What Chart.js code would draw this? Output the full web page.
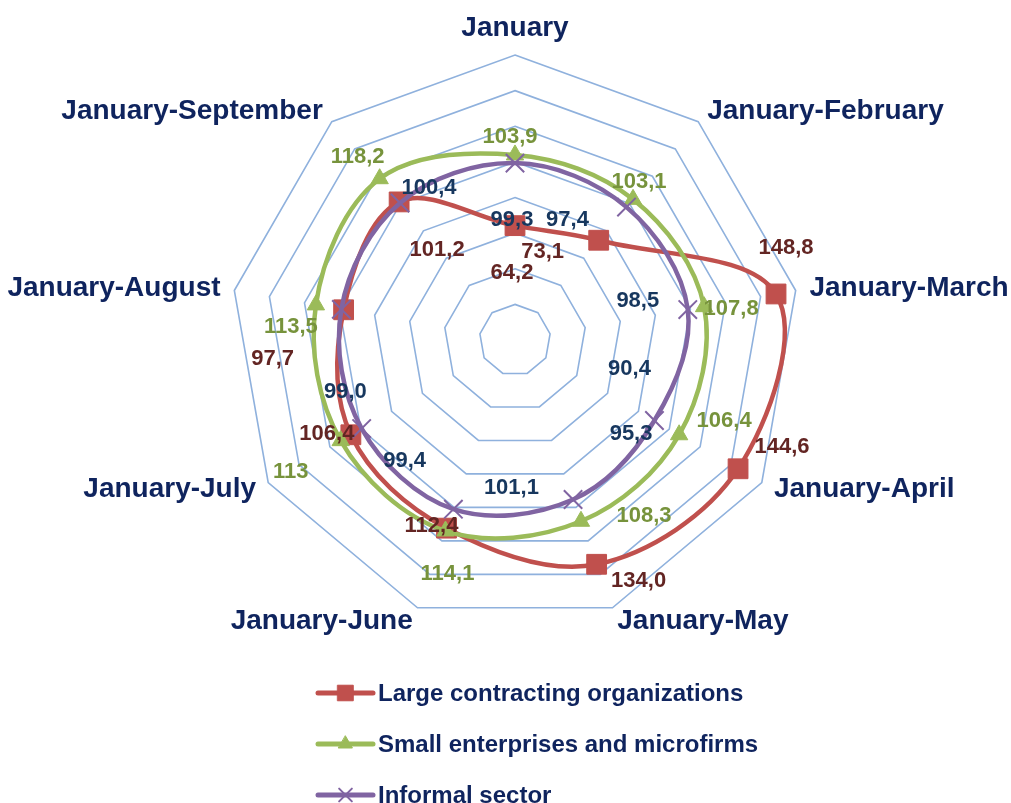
<!DOCTYPE html>
<html>
<head>
<meta charset="utf-8">
<script src="https://cdn.jsdelivr.net/npm/chart.js@4.4.1/dist/chart.umd.min.js"></script>
<style>
  html, body { margin:0; padding:0; background:#fff; }
  #wrap { width:1011px; height:803px; position:relative; }
</style>
</head>
<body>
<div id="wrap"><canvas id="chartRadar"></canvas></div>
<script>
// categories and values
const CATEGORIES = ['January','January-February','January-March','January-April','January-May',
  'January-June','January-July','January-August','January-September'];
const LARGE    = [64.2, 73.1, 148.8, 144.6, 134.0, 112.4, 106.4, 97.7, 101.2];
const SMALL    = [103.9, 103.1, 107.8, 106.4, 108.3, 114.1, 113.0, 113.5, 118.2];
const INFORMAL = [99.3, 97.4, 98.5, 90.4, 95.3, 101.1, 99.4, 99.0, 100.4];
const SERIES_NAMES = ['Large contracting organizations','Small enterprises and microfirms','Informal sector'];

const COLORS = {
  large: '#c0504d', largeLbl: '#632523',
  small: '#9bbb59', smallLbl: '#77933c',
  informal: '#8064a2', informalLbl: '#17375e',
  grid: '#8fb1dd',
  text: '#0f245e'
};
const FONT = "'Liberation Sans', Arial, sans-serif";

// label nudges in px (Excel put them in odd spots)
const LABEL_SHIFT = [
  [[-3,47],[-56,12],[10,-46],[44,-22],[42,17],[-15,-2],[-24,-1],[-71,49],[38,48]],
  [[-5,-18],[6,-17],[27,2],[45,-14],[63,-5],[2,43],[-50,31],[-25,22],[-22,-22]],
  [[-3,57],[-59,13],[-50,-9],[-25,-52],[58,-66],[58,-21],[43,32],[4,83],[29,-15]]
];

// the source shows "113" without decimals, everything else with one
const fmt = v => v === 113 ? '113' : v.toFixed(1).replace('.', ',');

const valueLabels = {
  id:'valueLabels',
  afterDatasetsDraw(chart){
    const ctx = chart.ctx;
    ctx.save();
    ctx.font = 'bold 22px ' + FONT;
    ctx.textAlign = 'center';
    ctx.textBaseline = 'middle';
    chart.data.datasets.forEach((ds, di) => {
      const meta = chart.getDatasetMeta(di);
      ctx.fillStyle = ds.labelColor;
      meta.data.forEach((pt, i) => {
        const [dx, dy] = LABEL_SHIFT[di][i];
        ctx.fillText(fmt(ds.data[i]), pt.x + dx, pt.y + dy);
      });
    });
    ctx.restore();
  }
};

const outerLabels = {
  id:'outerLabels',
  afterDraw(chart){
    const scale = chart.scales.r;
    const ctx = chart.ctx;
    ctx.save();
    ctx.font = 'bold 28px ' + FONT;
    ctx.fillStyle = COLORS.text;
    ctx.textBaseline = 'middle';
    CATEGORIES.forEach((lbl, i) => {
      const p = scale.getPointPosition(i, scale.drawingArea + 14);
      const deg = (i * 360 / CATEGORIES.length);
      let y = p.y;
      if (deg === 0) { ctx.textAlign = 'center'; y -= 13; }
      else if (deg < 180) ctx.textAlign = 'left';
      else ctx.textAlign = 'right';
      ctx.fillText(lbl, p.x, y);
    });
    ctx.restore();
  }
};

const stackedLegend = {
  id:'stackedLegend',
  afterDraw(chart){
    const ctx = chart.ctx;
    const x0 = 318, x1 = 373, y0 = 693, gap = 51;
    ctx.save();
    chart.data.datasets.forEach((ds, i) => {
      const y = y0 + i * gap;
      ctx.strokeStyle = ds.borderColor;
      ctx.lineWidth = 5;
      ctx.lineCap = 'round';
      ctx.beginPath(); ctx.moveTo(x0, y); ctx.lineTo(x1, y); ctx.stroke();
      ctx.fillStyle = ds.pointBackgroundColor;
      ctx.strokeStyle = ds.pointBorderColor;
      ctx.lineWidth = ds.pointBorderWidth;
      Chart.helpers.drawPoint(ctx, {pointStyle: ds.pointStyle, radius: ds.legendRadius, rotation: 0, borderWidth: ds.pointBorderWidth}, (x0 + x1) / 2, y);
      ctx.fillStyle = COLORS.text;
      ctx.font = 'bold 24px ' + FONT;
      ctx.textAlign = 'left';
      ctx.textBaseline = 'middle';
      ctx.fillText(ds.label, 378, y + 1);
    });
    ctx.restore();
  }
};

new Chart(document.getElementById('chartRadar'), {
  type:'radar',
  data:{
    labels: CATEGORIES,
    datasets:[
      {label:SERIES_NAMES[0], data:LARGE, order:3, borderColor:COLORS.large, backgroundColor:COLORS.large,
       pointBackgroundColor:COLORS.large, pointBorderColor:COLORS.large, pointBorderWidth:1,
       pointStyle:'rect', pointRadius:14, legendRadius:11, labelColor:COLORS.largeLbl},
      {label:SERIES_NAMES[1], data:SMALL, order:2, borderColor:COLORS.small, backgroundColor:COLORS.small,
       pointBackgroundColor:COLORS.small, pointBorderColor:COLORS.small, pointBorderWidth:1,
       pointStyle:'triangle', pointRadius:10, legendRadius:8, labelColor:COLORS.smallLbl},
      {label:SERIES_NAMES[2], data:INFORMAL, order:1, borderColor:COLORS.informal, backgroundColor:COLORS.informal,
       pointBackgroundColor:COLORS.informal, pointBorderColor:COLORS.informal, pointBorderWidth:2,
       pointStyle:'crossRot', pointRadius:13, legendRadius:9, labelColor:COLORS.informalLbl}
    ]
  },
  options:{
    responsive:true,
    maintainAspectRatio:false,
    animation:false,
    layout:{padding:{left:230, right:211, top:55, bottom:178}},
    elements:{line:{borderWidth:4.5, tension:.35, fill:false}},
    plugins:{legend:{display:false}, tooltip:{enabled:false}},
    scales:{
      r:{
        min:0, max:160,
        ticks:{display:false, stepSize:20},
        pointLabels:{display:false},
        angleLines:{display:false},
        grid:{color:COLORS.grid, lineWidth:1.6}
      }
    }
  },
  plugins:[valueLabels, outerLabels, stackedLegend]
});
</script>
</body>
</html>
